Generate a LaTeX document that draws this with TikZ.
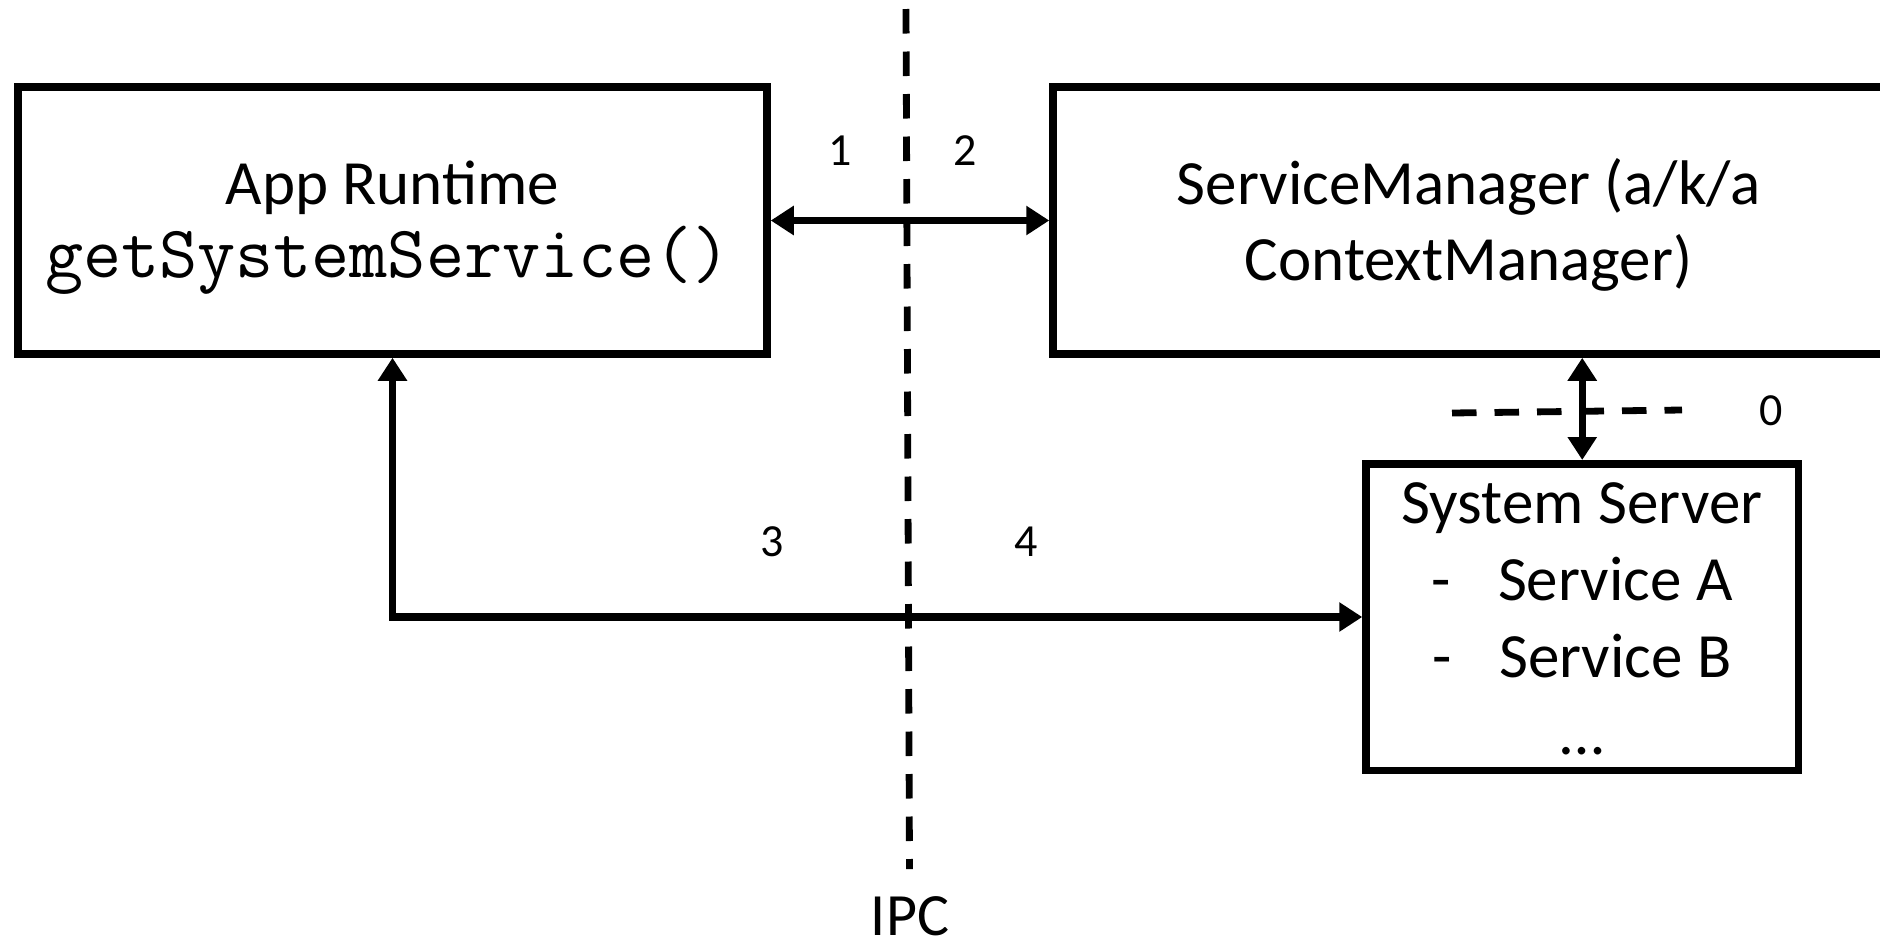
\documentclass[tikz,border=0pt]{standalone}
\usepackage{fontspec}
\setmainfont{Carlito}
\usetikzlibrary{arrows.meta}

\begin{document}
\begin{tikzpicture}[x=0.5pt, y=-0.5pt,
  box/.style={draw, line width=3.75pt, inner sep=0pt},
  txt/.style={inner sep=0pt, anchor=base, font=\fontsize{31.5}{38.5}\selectfont},
  code/.style={inner sep=0pt, anchor=base, font=\fontsize{37}{42}\selectfont\ttfamily},
  link/.style={line width=3.75pt,
    {Triangle[length=11.5pt,width=14pt]}-{Triangle[length=11.5pt,width=14pt]}},
  divider/.style={line width=3.4pt, dash pattern=on 12.25pt off 9pt},
  num/.style={inner sep=0pt, font=\fontsize{23}{28}\selectfont},
  caption/.style={inner sep=0pt, anchor=base, font=\fontsize{30}{36}\selectfont}
]
\clip (0,0) rectangle (1880,943);

% the three components
\node[box, minimum width=374.5pt, minimum height=133.5pt] (app) at (392.5,220.5) {};
\node[box, minimum width=415.5pt, minimum height=133.5pt] (sm) at (1468.5,220.5) {};
\node[box, minimum width=216.25pt, minimum height=153.25pt] (ss) at (1582.25,617) {};

% their labels, one line each
\node[txt]  (appname) at (392.5,204) {App Runtime};
\node[code] (appcall) at (388,277) {getSystemService()};
\node[txt]  (smname)  at (1468.5,204) {ServiceManager (a/k/a};
\node[txt]  (smalias) at (1468.5,280) {ContextManager)};
\node[txt]  (ssname)  at (1582,523) {System Server};
\node[txt]  (ssa)     at (1582,600) {-\hspace{0.75em}Service A};
\node[txt]  (ssb)     at (1582,677) {-\hspace{0.75em}Service B};
\node[txt]  (ssmore)  at (1582,754) {…};

% process boundary
\coordinate (ipctop) at (906,9);
\coordinate (ipcbot) at (909.5,869);
\draw[divider] (ipctop) -- (ipcbot);
\node[caption] (ipc) at (910,935) {IPC};

% boundary between ServiceManager and System Server
\coordinate (regl) at (1452,413);
\coordinate (regr) at (1682,410);
\draw[divider] (regl) -- (regr);

% calls
\draw[link] (app.east) -- (sm.west);
\draw[link] (app.south) |- (ss.west);
\draw[link] (ss.north) -- (ss.north |- sm.south);

% step numbers
\node[num] (n1) at (840,151) {1};
\node[num] (n2) at (965,151) {2};
\node[num] (n3) at (772,542) {3};
\node[num] (n4) at (1026,542) {4};
\node[num] (n0) at (1771,411) {0};
\end{tikzpicture}
\end{document}
